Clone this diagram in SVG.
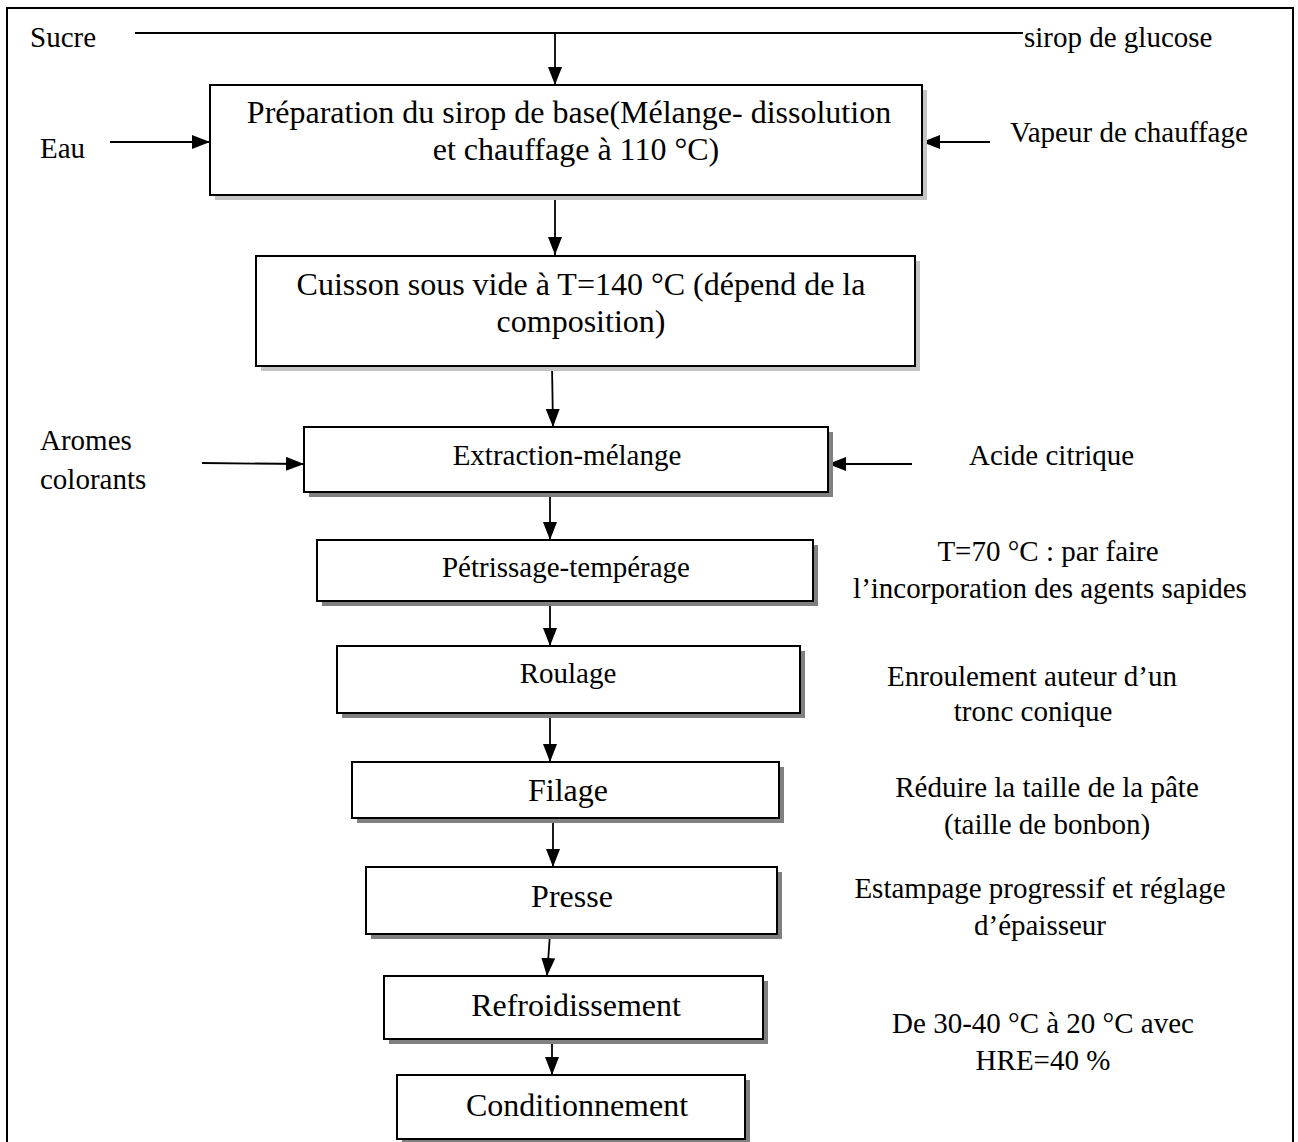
<svg xmlns="http://www.w3.org/2000/svg" width="1298" height="1142" viewBox="0 0 1298 1142">
<defs>
<style>
.t{font-family:"Liberation Serif","Times New Roman",serif;fill:#000}
.s29{font-size:29px}
.s32{font-size:32px}
.c{text-anchor:middle}
.box{fill:#fff;stroke:#000;stroke-width:2}
.shl{fill:#c4c4c4}
.shd{fill:#808080}
.ln{stroke:#000;stroke-width:1.8;fill:none}
</style>
<marker id="ahb" viewBox="0 0 18 14" refX="18" refY="7" markerWidth="18" markerHeight="14" markerUnits="userSpaceOnUse" orient="auto">
<path d="M0,0 L18,7 L0,14 Z" fill="#000"/>
</marker>
</defs>
<rect width="1298" height="1142" fill="#fff"/>
<path d="M7,1142 V8 H1293 V1142" fill="none" stroke="#000" stroke-width="2"/>

<g id="connectors">
<line class="ln" x1="135" y1="33" x2="1023" y2="33"/>
<line class="ln" x1="555" y1="33" x2="555" y2="85" marker-end="url(#ahb)"/>
<line class="ln" x1="110" y1="142" x2="210" y2="142" marker-end="url(#ahb)"/>
<line class="ln" x1="990" y1="142" x2="922" y2="142" marker-end="url(#ahb)"/>
<line class="ln" x1="555" y1="195" x2="555" y2="255" marker-end="url(#ahb)"/>
<line class="ln" x1="552" y1="365" x2="553" y2="427" marker-end="url(#ahb)"/>
<line class="ln" x1="202" y1="463" x2="304" y2="464" marker-end="url(#ahb)"/>
<line class="ln" x1="912" y1="464" x2="828" y2="464" marker-end="url(#ahb)"/>
<line class="ln" x1="550" y1="492" x2="550" y2="540" marker-end="url(#ahb)"/>
<line class="ln" x1="550" y1="601" x2="550" y2="646" marker-end="url(#ahb)"/>
<line class="ln" x1="550" y1="713" x2="550" y2="762" marker-end="url(#ahb)"/>
<line class="ln" x1="553" y1="818" x2="553" y2="867" marker-end="url(#ahb)"/>
<line class="ln" x1="550" y1="934" x2="547" y2="976" marker-end="url(#ahb)"/>
<line class="ln" x1="552" y1="1039" x2="552" y2="1075" marker-end="url(#ahb)"/>
</g>

<g id="labels">
<text class="t s29" x="30" y="47">Sucre</text>
<text class="t s29" x="1024" y="47">sirop de glucose</text>
<text class="t s29" x="40" y="158">Eau</text>
<text class="t s29" x="1010" y="142">Vapeur de chauffage</text>
<text class="t s29" x="40" y="450">Aromes</text>
<text class="t s29" x="40" y="489">colorants</text>
<text class="t s29" x="969" y="465">Acide citrique</text>
<text class="t s29 c" x="1048" y="561">T=70 °C : par faire</text>
<text class="t s29 c" x="1050" y="598">l’incorporation des agents sapides</text>
<text class="t s29 c" x="1032" y="686">Enroulement auteur d’un</text>
<text class="t s29 c" x="1033" y="721">tronc conique</text>
<text class="t s29 c" x="1047" y="797">Réduire la taille de la pâte</text>
<text class="t s29 c" x="1047" y="834">(taille de bonbon)</text>
<text class="t s29 c" x="1040" y="898">Estampage progressif et réglage</text>
<text class="t s29 c" x="1040" y="935">d’épaisseur</text>
<text class="t s29 c" x="1043" y="1033">De 30-40 °C à 20 °C avec</text>
<text class="t s29 c" x="1043" y="1070">HRE=40 %</text>
</g>

<g id="n1">
<rect class="shl" x="215" y="90" width="712" height="110"/>
<rect class="box" x="210" y="85" width="712" height="110"/>
<text class="t s32 c" x="569" y="123">Préparation du sirop de base(Mélange- dissolution</text>
<text class="t s32 c" x="576" y="160">et chauffage à 110 °C)</text>
</g>
<g id="n2">
<rect class="shl" x="261" y="261" width="659" height="110"/>
<rect class="box" x="256" y="256" width="659" height="110"/>
<text class="t s32 c" x="581" y="295">Cuisson sous vide à T=140 °C (dépend de la</text>
<text class="t s32 c" x="581" y="332">composition)</text>
</g>
<g id="n3">
<rect class="shd" x="309" y="432" width="524" height="65"/>
<rect class="box" x="304" y="427" width="524" height="65"/>
<text class="t s29 c" x="567" y="465">Extraction-mélange</text>
</g>
<g id="n4">
<rect class="shd" x="322" y="545" width="496" height="61"/>
<rect class="box" x="317" y="540" width="496" height="61"/>
<text class="t s29 c" x="566" y="577">Pétrissage-tempérage</text>
</g>
<g id="n5">
<rect class="shd" x="342" y="651" width="463" height="67"/>
<rect class="box" x="337" y="646" width="463" height="67"/>
<text class="t s29 c" x="568" y="683">Roulage</text>
</g>
<g id="n6">
<rect class="shd" x="357" y="767" width="427" height="56"/>
<rect class="box" x="352" y="762" width="427" height="56"/>
<text class="t s32 c" x="568" y="801">Filage</text>
</g>
<g id="n7">
<rect class="shd" x="371" y="872" width="411" height="67"/>
<rect class="box" x="366" y="867" width="411" height="67"/>
<text class="t s32 c" x="572" y="907">Presse</text>
</g>
<g id="n8">
<rect class="shd" x="389" y="981" width="379" height="63"/>
<rect class="box" x="384" y="976" width="379" height="63"/>
<text class="t s32 c" x="576" y="1016">Refroidissement</text>
</g>
<g id="n9">
<rect class="shd" x="402" y="1080" width="348" height="64"/>
<rect class="box" x="397" y="1075" width="348" height="64"/>
<text class="t s32 c" x="577" y="1116">Conditionnement</text>
</g>
</svg>
